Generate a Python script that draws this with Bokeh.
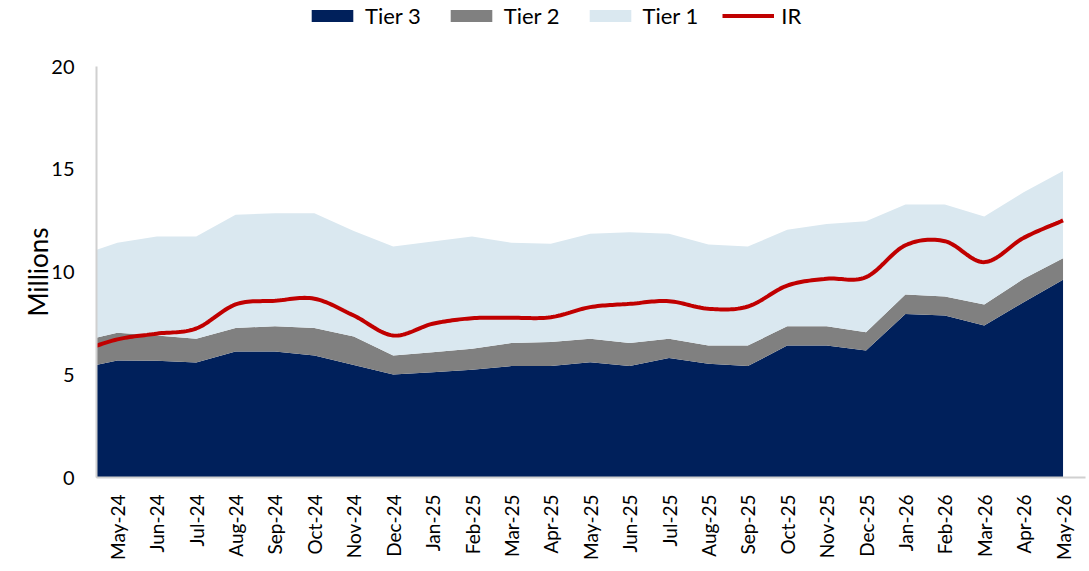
import numpy as np
from bokeh.plotting import figure
from bokeh.layouts import column
from bokeh.models import ColumnDataSource, FixedTicker, Legend, LegendItem
from bokeh.embed import file_html
from bokeh.resources import INLINE

# ---- data (millions) ----
months = ["Apr-24", "May-24", "Jun-24", "Jul-24", "Aug-24", "Sep-24", "Oct-24", "Nov-24",
          "Dec-24", "Jan-25", "Feb-25", "Mar-25", "Apr-25", "May-25", "Jun-25", "Jul-25",
          "Aug-25", "Sep-25", "Oct-25", "Nov-25", "Dec-25", "Jan-26", "Feb-26", "Mar-26",
          "Apr-26", "May-26"]
tier3 = [5.29, 5.69, 5.68, 5.60, 6.13, 6.13, 5.94, 5.48, 5.01, 5.12, 5.24, 5.42, 5.42,
         5.61, 5.42, 5.81, 5.53, 5.42, 6.42, 6.42, 6.18, 7.96, 7.88, 7.40, 8.53, 9.62]
tier2 = [1.30, 1.35, 1.23, 1.15, 1.15, 1.23, 1.34, 1.38, 0.93, 0.98, 1.02, 1.12, 1.17,
         1.14, 1.12, 0.94, 0.89, 1.00, 0.94, 0.94, 0.89, 0.95, 0.93, 1.02, 1.14, 1.05]
tier1 = [4.19, 4.38, 4.82, 4.98, 5.50, 5.50, 5.58, 5.14, 5.30, 5.38, 5.47, 4.88, 4.78,
         5.11, 5.40, 5.11, 4.92, 4.82, 4.69, 4.98, 5.40, 4.37, 4.47, 4.28, 4.21, 4.24]
ir = [6.10, 6.72, 7.00, 7.25, 8.42, 8.60, 8.70, 7.88, 6.91, 7.48, 7.75, 7.77, 7.80,
      8.29, 8.45, 8.58, 8.21, 8.32, 9.34, 9.67, 9.75, 11.30, 11.50, 10.48, 11.66, 12.51]
series_names = ["Tier 3", "Tier 2", "Tier 1", "IR"]
y_ticks = [0, 5, 10, 15, 20]

NAVY = "#00205B"
GRAY = "#808080"
LIGHT = "#DAE8F0"
RED = "#C00000"
AXIS = "#D0D0D0"
FONT = "Lato"

# x positions: first month (Apr-24) sits just left of the visible axis
xs = np.arange(len(months)) - 1.0
src = ColumnDataSource(dict(x=xs, t3=tier3, t2=tier2, t1=tier1))

# smooth IR line (Catmull-Rom, like Excel's smoothed line)
def smooth(x, y, n=16):
    x = np.asarray(x, float); y = np.asarray(y, float)
    px = np.concatenate([[2 * x[0] - x[1]], x, [2 * x[-1] - x[-2]]])
    py = np.concatenate([[2 * y[0] - y[1]], y, [2 * y[-1] - y[-2]]])
    ox, oy = [], []
    for i in range(1, len(px) - 2):
        t = np.linspace(0, 1, n, endpoint=False)
        for arr, out in ((px, ox), (py, oy)):
            p0, p1, p2, p3 = arr[i - 1], arr[i], arr[i + 1], arr[i + 2]
            b0 = p1
            b1 = p1 + (p2 - p0) / 6
            b2 = p2 - (p3 - p1) / 6
            b3 = p2
            out.extend((1 - t) ** 3 * b0 + 3 * (1 - t) ** 2 * t * b1 + 3 * (1 - t) * t ** 2 * b2 + t ** 3 * b3)
    ox.append(x[-1]); oy.append(y[-1])
    return np.array(ox), np.array(oy)

sx, sy = smooth(xs, ir)

# ---- main chart ----
p = figure(frame_width=989, frame_height=411, output_backend="svg", toolbar_location=None,
           x_range=(-0.53, 24.57), y_range=(0, 20),
           min_border_left=96, min_border_right=4, min_border_top=12, min_border_bottom=90)
p.outline_line_color = None
p.background_fill_color = "white"
p.border_fill_color = "white"
p.xgrid.grid_line_color = None
p.ygrid.grid_line_color = None

areas = p.varea_stack(stackers=["t3", "t2", "t1"], x="x", color=[NAVY, GRAY, LIGHT], source=src)
line = p.line(sx, sy, line_color=RED, line_width=4)

p.xaxis.ticker = FixedTicker(ticks=list(range(0, 25)))
p.xaxis.major_label_overrides = {i: months[i + 1] for i in range(25)}
p.xaxis.major_label_orientation = np.pi / 2
p.xaxis.major_label_standoff = 11
p.yaxis.ticker = FixedTicker(ticks=y_ticks)
p.yaxis.major_label_standoff = 16
p.yaxis.axis_label = "Millions"
p.yaxis.axis_label_standoff = -6
for ax in (p.xaxis[0], p.yaxis[0]):
    ax.axis_line_color = AXIS
    ax.axis_line_width = 2
    ax.major_tick_line_color = None
    ax.minor_tick_line_color = None
    ax.major_label_text_font = FONT
    ax.major_label_text_color = "#000000"
p.xaxis.major_label_text_font_size = "19px"
p.yaxis.major_label_text_font_size = "20px"
p.yaxis.axis_label_text_font = FONT
p.yaxis.axis_label_text_font_size = "26px"
p.yaxis.axis_label_text_font_style = "normal"
p.yaxis.axis_label_text_color = "#000000"

# ---- legend strip on top (proxy glyphs lie outside its visible range) ----
lg = figure(width=1089, height=54, output_backend="svg", toolbar_location=None,
            x_range=(0, 1), y_range=(0, 1), min_border=0)
lg.axis.visible = False
lg.grid.visible = False
lg.outline_line_color = None
lg_items = []
for name, col in zip(series_names[:3], [NAVY, GRAY, LIGHT]):
    r = lg.varea(x=[0, 1], y1=[-3, -3], y2=[-2, -2], fill_color=col)
    lg_items.append(LegendItem(label=name, renderers=[r]))
r_ir = lg.line(x=[0, 1], y=[-2, -2], line_color=RED, line_width=4)
lg_items.append(LegendItem(label=series_names[3], renderers=[r_ir]))
legend = Legend(items=lg_items, orientation="horizontal", location=(210, 25),
                glyph_width=52, glyph_height=15, label_standoff=7, spacing=24,
                label_text_font=FONT, label_text_font_size="22px", label_text_color="#000000",
                border_line_color=None, background_fill_alpha=0, padding=0, margin=0)
lg.add_layout(legend, "center")

layout = column(lg, p, spacing=0)
open("out.html", "w").write(file_html(layout, INLINE))
